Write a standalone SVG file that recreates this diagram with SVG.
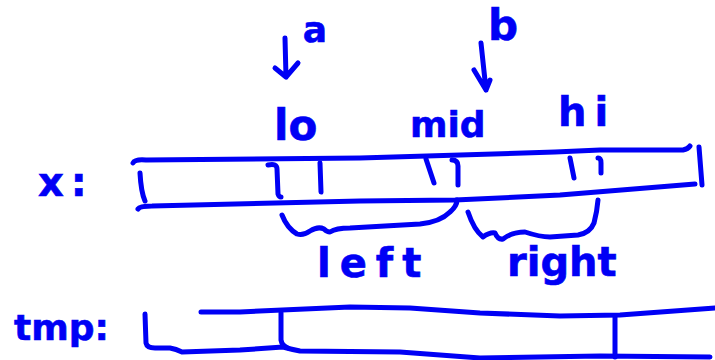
<svg xmlns="http://www.w3.org/2000/svg" width="715" height="360" viewBox="0 0 715 360">
  <style>
    .ink { fill: none; stroke: #0000f5; stroke-width: 5; stroke-linecap: round; stroke-linejoin: round; }
    .lbl { font-family: "DejaVu Sans", "Liberation Sans", sans-serif; font-weight: bold; fill: #0000f5; stroke: #0000f5; stroke-width: 0.6; }
  </style>
  <rect width="715" height="360" fill="#ffffff"/>

  <!-- array x with its cells -->
  <g id="array-x">
    <text class="lbl" x="38" y="196" font-size="40" letter-spacing="7">x:</text>
    <path class="ink" d="M133,163 Q135,159 146,160 L360,158 L555,152 L600,150 L683,150 Q688,149 690,146"/>
    <path class="ink" d="M138,209 Q140,206 152,206 L360,201 L455,200 L560,195 L695,184"/>
    <path class="ink" d="M140,173 Q141,192 145,201"/>
    <path class="ink" d="M699,147 L702,185"/>
    <path class="ink" d="M268,165 Q277,163 277,169 L278,194 Q279,197 281,197"/>
    <path class="ink" d="M320,163 L321,192"/>
    <path class="ink" d="M426,159 L434,183"/>
    <path class="ink" d="M452,160 Q458,160 458,166 L458,185"/>
    <path class="ink" d="M570,158 L574,178"/>
    <path class="ink" d="M598,158 Q601,158 601,163 L601,173"/>
  </g>

  <!-- index labels over x -->
  <g id="index-lo">
    <text class="lbl" x="274" y="140" font-size="42">lo</text>
  </g>
  <g id="index-mid">
    <text class="lbl" x="410" y="137" font-size="36">mid</text>
  </g>
  <g id="index-hi">
    <text class="lbl" x="558" y="126" font-size="40" letter-spacing="8">hi</text>
  </g>

  <!-- pointer names -->
  <g id="pointer-a">
    <text class="lbl" x="315" y="42" font-size="36" text-anchor="middle">a</text>
  </g>
  <g id="pointer-b">
    <text class="lbl" x="503" y="40" font-size="42" text-anchor="middle">b</text>
  </g>

  <!-- halves of x -->
  <g id="half-left">
    <text class="lbl" x="317" y="277" font-size="40" letter-spacing="9">left</text>
  </g>
  <g id="half-right">
    <text class="lbl" x="507" y="276" font-size="40">right</text>
  </g>

  <!-- scratch array tmp -->
  <g id="array-tmp">
    <text class="lbl" x="14" y="340" font-size="36">tmp:</text>
    <path class="ink" d="M145,314 L146,343 Q147,348 155,348 L170,348 Q176,349 182,352 L240,350 L283,347 Q290,349 300,351 L400,352 L480,358 L600,356 L710,357"/>
    <path class="ink" d="M201,312 L240,312 L350,307 L410,308 L480,313 L560,316 L620,315 L715,308"/>
    <path class="ink" d="M281,313 L281,340 Q282,346 288,348"/>
    <path class="ink" d="M615,316 L615,357"/>
  </g>

  <!-- arrows and braces -->
  <g id="connectors">
    <path class="ink" d="M285,38 L286,77 M275,68 L286,77 L298,63"/>
    <path class="ink" d="M481,43 L486,90 M474,70 L486,90 L490,80"/>
    <path class="ink" d="M282,215 Q287,228 297,234 Q303,236 310,231 Q318,226 324,229 Q327,232 330,232 Q336,228 350,228 L420,224 Q440,222 450,212 Q457,206 457,200"/>
    <path class="ink" d="M468,212 Q474,230 483,237 Q490,232 495,233 Q498,240 503,239 Q512,232 525,232 Q540,237 550,237 L578,235 Q590,233 594,223 Q597,212 598,200"/>
  </g>
</svg>
